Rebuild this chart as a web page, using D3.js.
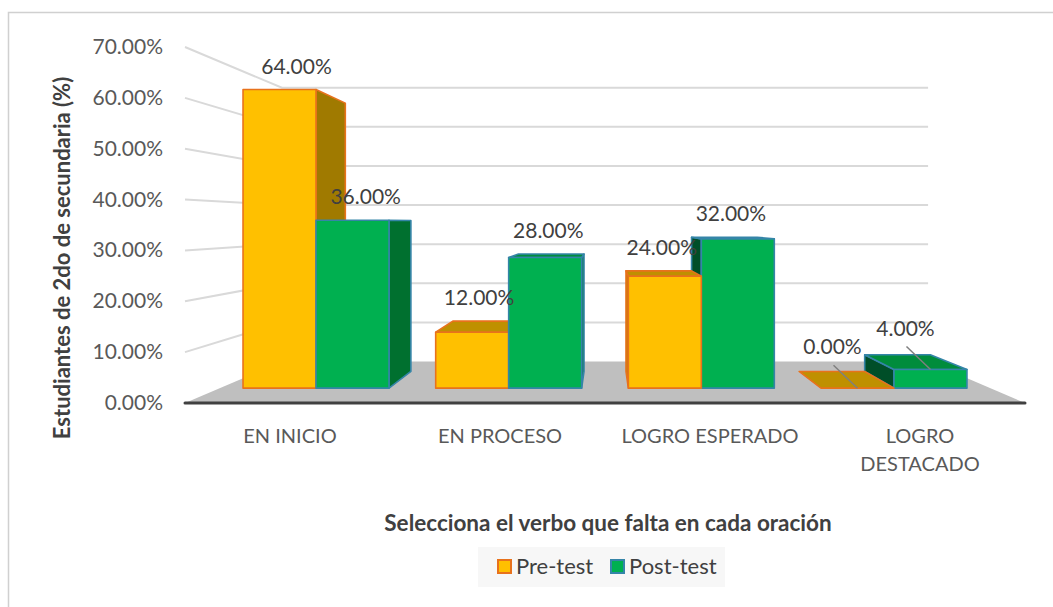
<!DOCTYPE html>
<html><head><meta charset="utf-8">
<script src="https://cdn.jsdelivr.net/npm/d3@7"></script>
<style>body{margin:0;background:#fff;} svg{display:block;font-family:Lato,"Liberation Sans",sans-serif}</style>
</head><body><svg id="c" width="1053" height="607"></svg>
<script>
const categories = ["EN INICIO","EN PROCESO","LOGRO ESPERADO","LOGRO DESTACADO"];
const categoryLines = [["EN INICIO"],["EN PROCESO"],["LOGRO ESPERADO"],["LOGRO","DESTACADO"]];
const seriesNames = ["Pre-test","Post-test"];
const preTest = [64,12,24,0];
const postTest = [36,28,32,4];
const yTicks = [0,10,20,30,40,50,60,70];
const xTitle = "Selecciona el verbo que falta en cada oración";
const yTitle = "Estudiantes de 2do de secundaria (%)";

const svg = d3.select("#c");
const plot = {left:185,right:1025,bottom:403,top:47};
const x = d3.scaleBand().domain(categories).range([plot.left,plot.right]).paddingInner(0).paddingOuter(0);
const xs = d3.scaleBand().domain(seriesNames).range([0,x.bandwidth()]).paddingInner(0).paddingOuter(0.32);
const y = d3.scaleLinear().domain([0,70]).range([plot.bottom,plot.top]);
const VP=[605,223.4], persp=0.30, t0=0.30, t1=0.71;
function P(xf,yf,t){const s=1/(1+persp*t);return [VP[0]+(xf-VP[0])*s, VP[1]+(yf-VP[1])*s];}
const style = {
  "Pre-test": {front:"#FFC000", top:"#BF9000", right:"#A07A00", left:"#B08400", stroke:"#E8721C"},
  "Post-test":{front:"#00B050", top:"#008C3C", right:"#00702F", left:"#004E28", stroke:"#3585A8"}
};
const fmt = v => d3.format(".2f")(v)+"%";
const line = d3.line();

// chart border
svg.append("rect").attr("x",8.5).attr("y",12.5).attr("width",1100).attr("height",700)
  .attr("fill","#fff").attr("stroke","#d0d0d0").attr("stroke-width",1.5);

// gridlines (side wall + back wall)
const g = svg.append("g");
yTicks.filter(v=>v>0).forEach(v=>{
  g.append("path").attr("d", line([P(plot.left,y(v),0),P(plot.left,y(v),1),P(plot.right,y(v),1)]))
   .attr("fill","none").attr("stroke","#d9d9d9").attr("stroke-width",2);
});
// floor
const y0=y(0);
g.append("path").attr("d", line([P(plot.left,y0,0),P(plot.right,y0,0),P(plot.right,y0,1),P(plot.left,y0,1)])+"Z")
  .attr("fill","#bfbfbf");
g.append("path").attr("d", line([P(plot.left,y0,0),P(plot.right,y0,0)]))
  .attr("stroke","#404040").attr("stroke-width",3).attr("stroke-linecap","round");

// tick labels
svg.append("g").selectAll("text").data(yTicks).join("text")
  .attr("x",163).attr("y",d=>y(d)+7).attr("text-anchor","end")
  .attr("font-size",21).attr("fill","#595959").text(fmt);

// category labels
categories.forEach((c,i)=>{
  const t = svg.append("text").attr("text-anchor","middle").attr("font-size",20).attr("fill","#595959");
  categoryLines[i].forEach((ln,j)=>{
    t.append("tspan").attr("x",x(c)+x.bandwidth()/2).attr("y",443+j*28).text(ln);
  });
});

// bars
const bars=[];
categories.forEach((c,i)=>{
  [preTest,postTest].forEach((arr,k)=>{
    const s=seriesNames[k];
    const x0=x(c)+xs(s), x1=x0+xs.bandwidth();
    bars.push({c,s,v:arr[i],x0,x1});
  });
});
bars.sort((a,b)=>Math.abs((b.x0+b.x1)/2-VP[0]) - Math.abs((a.x0+a.x1)/2-VP[0]));
const bg = svg.append("g").attr("stroke-linejoin","round");
bars.forEach(b=>{
  const st=style[b.s], yb=y(0), yt=y(b.v);
  const poly=(pts,fill)=>bg.append("path").attr("d",line(pts)+"Z").attr("fill",fill)
     .attr("stroke",st.stroke).attr("stroke-width",1.6);
  if(b.v>0){
    if(b.x1<VP[0]) poly([P(b.x1,yb,t0),P(b.x1,yb,t1),P(b.x1,yt,t1),P(b.x1,yt,t0)],st.right);
    if(b.x0>VP[0]) poly([P(b.x0,yb,t0),P(b.x0,yb,t1),P(b.x0,yt,t1),P(b.x0,yt,t0)],st.left);
  }
  if(yt>VP[1]) poly([P(b.x0,yt,t0),P(b.x1,yt,t0),P(b.x1,yt,t1),P(b.x0,yt,t1)],st.top);
  if(b.v>0) poly([P(b.x0,yb,t0),P(b.x1,yb,t0),P(b.x1,yt,t0),P(b.x0,yt,t0)],st.front);
});

// data labels
const lg = svg.append("g");
bars.forEach(b=>{
  const xc=(b.x0+b.x1)/2, yt=y(b.v);
  if(b.v>=8){
    const cx=P(xc,yt,0.5)[0];
    const cy=Math.min(P(xc,yt,t0)[1],P(xc,yt,t1)[1])-23;
    lg.append("text").attr("x",cx).attr("y",cy+7).attr("text-anchor","middle")
      .attr("font-size",21).attr("fill","#404040").text(fmt(b.v));
  } else {
    const a=P(xc,yt,t0);
    const lx=a[0]-25, ly=a[1]-41;
    lg.append("path").attr("d",line([[lx+1,ly+18],a])).attr("stroke","#7f7f7f").attr("stroke-width",1.5);
    lg.append("text").attr("x",lx).attr("y",ly+7).attr("text-anchor","middle")
      .attr("font-size",21).attr("fill","#404040").text(fmt(b.v));
  }
});

// axis titles
svg.append("text").attr("x",608).attr("y",531).attr("text-anchor","middle")
  .attr("font-size",22.5).attr("font-weight","bold").attr("fill","#404040").text(xTitle);
svg.append("text").attr("transform","translate(70,258) rotate(-90)").attr("text-anchor","middle")
  .attr("font-size",22).attr("font-weight","bold").attr("fill","#404040").text(yTitle);

// legend
const leg = svg.append("g");
leg.append("rect").attr("x",478).attr("y",547).attr("width",247).attr("height",40).attr("fill","#f7f7f7");
const legX=[497,610];
seriesNames.forEach((s,i)=>{
  leg.append("rect").attr("x",legX[i]+1).attr("y",560).attr("width",13).attr("height",13)
    .attr("fill",style[s].front).attr("stroke",style[s].stroke).attr("stroke-width",2);
  leg.append("text").attr("x",legX[i]+19).attr("y",574).attr("font-size",22).attr("fill","#404040").text(s);
});
</script></body></html>
